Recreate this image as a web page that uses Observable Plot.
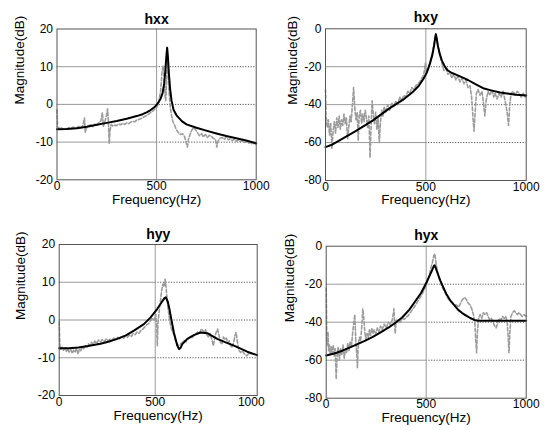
<!DOCTYPE html>
<html>
<head>
<meta charset="utf-8">
<script src="https://cdn.jsdelivr.net/npm/d3@7"></script>
<script src="https://cdn.jsdelivr.net/npm/@observablehq/plot@0.6"></script>
<style>
  html, body { margin: 0; padding: 0; background: #fff; }
  #wrap { position: relative; width: 551px; height: 430px; overflow: hidden; background: #fff; }
  .panel { position: absolute; }
</style>
</head>
<body>
<div id="wrap"></div>
<script>
// ---------- tick labels ----------
const xTicks = [0, 500, 1000];
const yTicksTop = [-20, -10, 0, 10, 20];     // hxx, hyy
const yTicksCross = [-80, -60, -40, -20, 0]; // hxy, hyx

// ---------- hxx : [frequency Hz, magnitude dB] ----------
const hxxModel = [[0,-6.6],[50,-6.5],[100,-6.3],[150,-5.9],[200,-5.4],[250,-4.9],[300,-4.4],[350,-3.8],[400,-3.1],[430,-2.6],[450,-2.1],[470,-1.5],[490,-0.7],[505,0.2],[520,1.5],[530,3.0],[538,5.5],[544,9.0],[549,12.8],[553,15.0],[557,12.5],[562,8.0],[568,4.0],[575,1.0],[585,-1.4],[600,-2.9],[628,-4.5],[650,-5.3],[700,-6.2],[745,-6.9],[800,-7.7],[850,-8.4],[911,-9.1],[950,-9.6],[1000,-10.3]];
const hxxMeas = [[0,-1.5],[3,-6.0],[10,-6.4],[20,-6.1],[30,-6.6],[40,-6.3],[50,-6.5],[60,-6.2],[70,-6.4],[80,-6.0],[90,-6.3],[100,-6.1],[110,-5.8],[120,-6.2],[130,-5.6],[138,-3.6],[142,-7.4],[150,-5.8],[160,-5.6],[170,-5.4],[180,-5.9],[190,-5.2],[200,-5.5],[210,-4.8],[220,-4.4],[228,-2.2],[233,-5.8],[240,-4.6],[248,-3.0],[254,-1.2],[258,-4.5],[262,-10.4],[266,-7.0],[272,-5.3],[280,-5.8],[290,-5.5],[300,-5.6],[310,-5.2],[320,-5.4],[330,-5.0],[340,-5.3],[350,-4.9],[360,-5.1],[370,-4.7],[380,-4.5],[390,-4.6],[400,-4.2],[410,-4.0],[420,-3.8],[430,-3.5],[440,-3.2],[450,-3.0],[460,-2.6],[470,-2.2],[480,-1.8],[490,-1.3],[500,-0.8],[510,0.5],[520,3.5],[528,9.0],[533,10.2],[538,7.0],[543,2.0],[546,1.0],[549,5.0],[553,11.5],[557,10.0],[562,4.0],[568,-0.5],[575,-3.0],[582,-4.6],[590,-5.5],[600,-6.8],[610,-7.5],[620,-8.0],[630,-7.8],[640,-8.5],[648,-10.0],[655,-11.3],[660,-9.2],[668,-8.0],[675,-7.0],[685,-6.2],[695,-6.6],[705,-7.5],[715,-8.3],[725,-7.8],[735,-8.6],[745,-8.0],[755,-8.8],[765,-8.2],[775,-8.5],[785,-9.0],[795,-9.2],[802,-11.3],[808,-9.8],[818,-9.0],[830,-8.8],[840,-9.3],[850,-8.6],[860,-9.4],[870,-9.1],[880,-9.6],[890,-9.2],[900,-9.8],[910,-9.4],[920,-9.9],[930,-9.6],[940,-10.1],[950,-9.8],[960,-10.3],[970,-10.1],[980,-10.5],[990,-10.3],[1000,-10.6]];

// ---------- hxy ----------
const hxyModel = [[0,-62.4],[35,-61.0],[70,-58.9],[150,-54.0],[235,-48.4],[315,-42.2],[385,-37.5],[435,-33.3],[465,-30.0],[490,-26.0],[505,-23.0],[520,-18.5],[532,-14.0],[541,-9.0],[547,-4.5],[550,-2.8],[554,-5.0],[560,-9.0],[570,-13.5],[580,-16.8],[595,-20.0],[610,-22.0],[630,-23.3],[650,-24.2],[690,-26.0],[710,-27.0],[747,-29.2],[790,-31.5],[830,-32.6],[870,-33.6],[914,-34.3],[950,-34.8],[1000,-35.2]];
const hxyMeas = [[0,-32],[3,-46],[8,-52],[14,-48],[20,-56],[26,-50],[32,-63],[38,-54],[44,-49],[50,-55],[56,-47],[62,-52],[68,-46],[74,-53],[80,-48],[86,-51],[92,-45],[98,-50],[104,-47],[110,-58],[116,-52],[122,-46],[128,-49],[134,-40],[140,-31],[146,-42],[152,-48],[158,-44],[163,-59],[168,-46],[174,-43],[180,-50],[186,-45],[192,-49],[198,-43],[204,-47],[210,-52],[216,-46],[222,-68],[227,-52],[232,-38],[238,-45],[244,-50],[250,-44],[256,-53],[262,-47],[268,-60],[274,-49],[280,-43],[286,-46],[292,-41],[300,-44],[310,-40],[320,-43],[330,-39],[340,-41],[350,-38],[360,-40],[370,-36],[380,-38],[390,-35],[400,-36],[410,-33],[420,-34],[430,-31],[440,-32],[450,-30],[460,-29],[470,-28],[480,-26],[490,-24],[498,-18],[503,-23],[512,-21],[522,-17],[532,-13],[540,-8],[546,-4],[550,-3],[555,-6],[562,-10],[570,-14],[580,-18],[590,-22],[600,-21],[610,-24],[620,-23],[630,-26],[640,-24],[650,-27],[660,-25],[670,-28],[680,-26],[690,-29],[700,-27],[710,-31],[720,-30],[728,-36],[735,-47],[740,-54],[745,-45],[752,-34],[760,-32],[770,-35],[780,-33],[788,-40],[794,-46],[800,-38],[810,-33],[820,-35],[830,-32],[838,-36],[845,-34],[855,-37],[865,-34],[875,-36],[885,-33],[895,-38],[905,-44],[912,-51],[918,-40],[925,-34],[935,-33],[945,-35],[955,-33],[965,-34],[975,-36],[985,-34],[995,-36],[1000,-35]];

// ---------- hyy ----------
const hyyModel = [[0,-7.5],[50,-7.5],[100,-7.3],[150,-6.9],[215,-6.3],[260,-5.7],[302,-5.0],[350,-4.0],[389,-2.8],[441,-1.1],[476,0.7],[510,2.9],[536,4.9],[548,5.8],[555,6.0],[565,4.9],[573,3.2],[580,1.2],[597,-3.3],[615,-6.8],[624,-7.7],[632,-7.4],[641,-6.4],[667,-5.0],[701,-4.0],[736,-3.3],[771,-3.5],[823,-5.0],[870,-6.0],[910,-6.8],[979,-8.4],[1031,-9.3]];
const hyyMeas = [[0,-0.5],[3,-6.5],[8,-7.8],[15,-7.2],[22,-8.0],[30,-7.4],[38,-8.3],[45,-7.6],[52,-8.5],[60,-7.8],[68,-8.8],[75,-8.0],[82,-8.6],[90,-7.5],[98,-9.0],[105,-7.8],[112,-8.2],[120,-7.0],[128,-7.6],[136,-6.8],[145,-7.2],[152,-6.3],[160,-6.8],[168,-5.9],[176,-6.5],[185,-5.6],[195,-6.2],[205,-5.3],[215,-5.8],[225,-5.2],[235,-5.7],[245,-5.0],[255,-5.5],[265,-5.1],[275,-5.4],[285,-4.8],[295,-5.2],[305,-4.6],[315,-5.0],[325,-4.5],[335,-4.9],[345,-4.2],[355,-4.6],[365,-4.0],[375,-4.4],[385,-3.6],[395,-3.9],[405,-3.2],[415,-3.5],[425,-2.8],[435,-2.4],[445,-1.9],[455,-1.3],[465,-1.0],[475,-0.2],[485,0.5],[495,0.0],[503,1.5],[508,-2.0],[511,-6.8],[514,-1.0],[520,2.0],[527,5.0],[534,8.0],[540,9.5],[546,8.8],[551,10.8],[556,9.0],[562,5.5],[568,2.5],[575,0.0],[582,-2.0],[590,-3.0],[598,-4.0],[606,-5.5],[614,-6.2],[622,-6.8],[630,-6.5],[640,-6.0],[650,-5.4],[660,-5.8],[670,-5.0],[680,-4.6],[690,-4.8],[700,-4.2],[710,-3.8],[720,-3.2],[730,-3.6],[740,-2.4],[748,-2.8],[755,-3.4],[762,-2.6],[770,-4.0],[778,-4.6],[785,-3.5],[795,-5.2],[803,-6.8],[810,-4.5],[818,-3.2],[825,-2.4],[832,-4.0],[840,-6.0],[847,-6.4],[855,-4.5],[863,-5.2],[870,-4.8],[878,-6.0],[885,-5.5],[893,-6.8],[900,-7.3],[908,-6.0],[915,-4.2],[921,-3.3],[927,-5.5],[935,-8.0],[945,-8.6],[955,-8.2],[965,-9.0],[975,-9.5],[985,-9.0],[995,-8.8],[1000,-9.0]];

// ---------- hyx ----------
const hyxModel = [[0,-57.5],[40,-56.5],[81,-55.0],[148,-51.9],[190,-50.0],[231,-47.9],[270,-45.5],[315,-42.6],[350,-40.0],[381,-37.4],[415,-33.5],[448,-28.6],[475,-24.5],[498,-19.8],[515,-16.0],[528,-13.0],[538,-10.5],[542,-10.0],[548,-11.5],[558,-14.5],[570,-18.0],[585,-21.5],[600,-25.0],[620,-28.5],[640,-31.0],[660,-33.5],[680,-35.2],[700,-36.5],[720,-37.8],[740,-38.8],[760,-39.2],[800,-39.2],[900,-39.2],[1000,-39.2]];
const hyxMeas = [[0,-22],[3,-48],[6,-52],[9,-45],[12,-55],[16,-52],[20,-57],[25,-53],[30,-56],[35,-52],[40,-58],[45,-54],[50,-70],[55,-57],[60,-53],[66,-60],[72,-54],[78,-57],[84,-52],[90,-59],[96,-54],[102,-56],[108,-51],[114,-55],[120,-50],[126,-53],[132,-46],[138,-40],[143,-36],[148,-50],[153,-57],[156,-64],[160,-52],[166,-48],[172,-50],[178,-42],[183,-33],[188,-38],[193,-45],[198,-49],[204,-46],[210,-48],[216,-44],[222,-47],[228,-43],[234,-46],[240,-44],[248,-46],[256,-43],[264,-45],[272,-42],[280,-44],[290,-41],[300,-43],[310,-40],[320,-41],[330,-39],[336,-35],[339,-33],[342,-40],[345,-46],[350,-39],[360,-39],[370,-40],[380,-38],[390,-38.5],[400,-37.5],[410,-36.5],[420,-35],[430,-33.5],[440,-32],[450,-30.5],[460,-28.5],[470,-27],[480,-25],[490,-23],[500,-21],[510,-17],[520,-13],[530,-9],[538,-5],[543,-4],[548,-8],[555,-13],[563,-16],[572,-19],[582,-22],[592,-24],[602,-26],[612,-28],[622,-29],[632,-30],[642,-31],[652,-31],[662,-32],[672,-30],[682,-28],[692,-27],[700,-28],[710,-30],[720,-31],[728,-33],[736,-36],[743,-40],[748,-50],[752,-56],[756,-45],[762,-38],[770,-36],[778,-38],[786,-35],[794,-36],[802,-35],[810,-37],[818,-39],[826,-38],[834,-40],[842,-42],[850,-43],[858,-40],[866,-38],[874,-39],[882,-37],[890,-38],[898,-37],[905,-40],[910,-48],[914,-56],[918,-46],[924,-37],[932,-35],[940,-34],[948,-35],[956,-36],[964,-35],[972,-36],[980,-37],[990,-36],[1000,-37]];

// ---------- panels ----------
const panels = [
  {title: "hxx", model: hxxModel, meas: hxxMeas, xMax: 1000, yTicks: yTicksTop,
   left: 0, top: 0, w: 275, m: {l: 56.5, r: 19.3, t: 28.5, b: 35.7}, titleY: 13.3, yl: 37.5, xl: 24},
  {title: "hxy", model: hxyModel, meas: hxyMeas, xMax: 1000, yTicks: yTicksCross,
   left: 275, top: 0, w: 276, m: {l: 50, r: 25.3, t: 28.3, b: 35}, titleY: 11.7, yl: 33, xl: 23.5},
  {title: "hyy", model: hyyModel, meas: hyyMeas, xMax: 1031, yTicks: yTicksTop,
   left: 0, top: 215, w: 275, m: {l: 58.7, r: 18.3, t: 29, b: 35}, titleY: 13.3, yl: 38.5, xl: 24},
  {title: "hyx", model: hyxModel, meas: hyxMeas, xMax: 1000, yTicks: yTicksCross,
   left: 275, top: 215, w: 276, m: {l: 50.7, r: 25.3, t: 30.7, b: 32.3}, titleY: 15, yl: 36.5, xl: 24}
];

const wrap = document.getElementById("wrap");
const fmt = d => String(d);

for (const p of panels) {
  const yDom = [p.yTicks[0], p.yTicks[p.yTicks.length - 1]];
  const inner = p.yTicks.slice(1, -1);
  const chart = Plot.plot({
    width: p.w,
    height: 215,
    marginLeft: p.m.l,
    marginRight: p.m.r,
    marginTop: p.m.t,
    marginBottom: p.m.b,
    style: {fontFamily: "'Liberation Sans', Arial, sans-serif", fontSize: "12px", color: "#000", background: "#fff", overflow: "visible"},
    x: {domain: [0, p.xMax], ticks: xTicks, tickFormat: fmt, tickSize: 0, tickPadding: 1.5, label: null},
    y: {domain: yDom, ticks: p.yTicks, tickFormat: fmt, tickSize: 0, tickPadding: 4, label: null},
    marks: [
      Plot.ruleY(inner, {x1: 0, x2: 500, stroke: "#9a9a9a", strokeWidth: 1}),
      Plot.ruleY(inner, {x1: 500, x2: p.xMax, stroke: "#555", strokeWidth: 1, strokeDasharray: "1.2,1.5"}),
      Plot.ruleX([500], {stroke: "#9a9a9a", strokeWidth: 1}),
      Plot.line(p.meas, {x: d => d[0], y: d => d[1], stroke: "#9c9c9c", strokeWidth: 1.6, strokeDasharray: "3.5,2"}),
      Plot.line(p.model, {x: d => d[0], y: d => d[1], stroke: "#000", strokeWidth: 2}),
      Plot.frame({stroke: "#555", strokeWidth: 1}),
      Plot.text([p.title], {text: d => d, frameAnchor: "top", dy: p.titleY - p.m.t, fontWeight: "bold", fontSize: 14}),
      Plot.text(["Magnitude(dB)"], {text: d => d, frameAnchor: "left", rotate: -90, dx: -p.yl, fontSize: 13.5}),
      Plot.text(["Frequency(Hz)"], {text: d => d, frameAnchor: "bottom", dy: p.xl, fontSize: 13.5})
    ]
  });
  const div = document.createElement("div");
  div.className = "panel";
  div.style.left = p.left + "px";
  div.style.top = p.top + "px";
  div.appendChild(chart);
  wrap.appendChild(div);
}
</script>
</body>
</html>
